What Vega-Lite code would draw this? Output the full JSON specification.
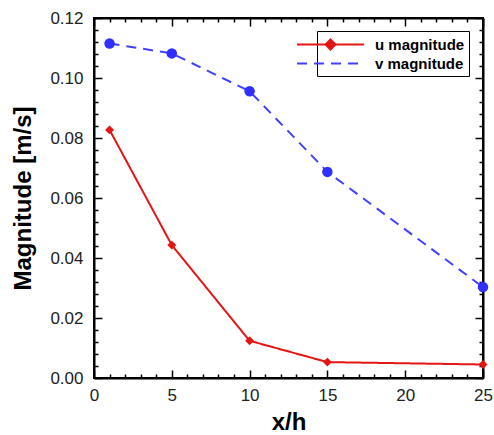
{
  "$schema": "https://vega.github.io/schema/vega-lite/v6.json",
  "width": 389,
  "height": 360,
  "autosize": "none",
  "padding": {"left": 94, "top": 18, "right": 11, "bottom": 57},
  "background": "white",
  "config": {
    "view": {"stroke": "black", "strokeWidth": 2},
    "font": "Liberation Sans",
    "axis": {
      "domain": true,
      "domainColor": "black",
      "domainWidth": 2,
      "grid": false,
      "ticks": true,
      "tickColor": "black",
      "tickWidth": 1.5,
      "tickOpacity": 1,
      "labelFont": "Liberation Sans",
      "labelFontSize": 17,
      "labelColor": "#222",
      "titleFont": "Liberation Sans",
      "titleFontSize": 24,
      "titleFontWeight": "bold",
      "titleColor": "black"
    }
  },
  "data": {
    "values": [
      {"x": 1, "mag": 0.0827, "series": "u magnitude"},
      {"x": 5, "mag": 0.0443, "series": "u magnitude"},
      {"x": 10, "mag": 0.0124, "series": "u magnitude"},
      {"x": 15, "mag": 0.0053, "series": "u magnitude"},
      {"x": 25, "mag": 0.0045, "series": "u magnitude"},
      {"x": 1, "mag": 0.1115, "series": "v magnitude"},
      {"x": 5, "mag": 0.1082, "series": "v magnitude"},
      {"x": 10, "mag": 0.0956, "series": "v magnitude"},
      {"x": 15, "mag": 0.0687, "series": "v magnitude"},
      {"x": 25, "mag": 0.0303, "series": "v magnitude"}
    ]
  },
  "resolve": {"axis": {"x": "independent", "y": "independent"}},
  "layer": [
    {
      "mark": {"type": "line", "strokeWidth": 2},
      "encoding": {
        "x": {
          "field": "x", "type": "quantitative",
          "scale": {"domain": [0, 25], "nice": false, "zero": false},
          "axis": {
            "orient": "bottom", "title": "x/h",
            "values": [0,1,2,3,4,5,6,7,8,9,10,11,12,13,14,15,16,17,18,19,20,21,22,23,24,25],
            "labelExpr": "datum.value % 5 === 0 ? datum.label : ''",
            "tickSize": -8,
            "tickDash": {"condition": {"test": "datum.value % 5 !== 0", "value": [4, 100]}, "value": [100, 0]},
            "labelPadding": 17,
            "titlePadding": 7,
            "labelFlush": false
          }
        },
        "y": {
          "field": "mag", "type": "quantitative",
          "scale": {"domain": [0, 0.12], "nice": false},
          "axis": {
            "orient": "left", "title": "Magnitude [m/s]",
            "values": [0,0.004,0.008,0.012,0.016,0.02,0.024,0.028,0.032,0.036,0.04,0.044,0.048,0.052,0.056,0.06,0.064,0.068,0.072,0.076,0.08,0.084,0.088,0.092,0.096,0.1,0.104,0.108,0.112,0.116,0.12],
            "format": ".2f",
            "labelExpr": "abs(round(datum.value*50) - datum.value*50) < 1e-6 ? datum.label : ''",
            "tickSize": -8,
            "tickDash": {"condition": {"test": "abs(round(datum.value*50) - datum.value*50) > 1e-6", "value": [4, 100]}, "value": [100, 0]},
            "labelPadding": 19,
            "titlePadding": 14,
            "labelFlush": false
          }
        },
        "color": {
          "field": "series", "type": "nominal",
          "scale": {"domain": ["u magnitude", "v magnitude"], "range": ["#e41515", "#4040ff"]},
          "legend": {
            "title": null,
            "orient": "none",
            "legendX": 223,
            "legendY": 13,
            "strokeColor": "black",
            "fillColor": "white",
            "padding": 4,
            "labelFont": "Liberation Sans",
            "labelFontSize": 15,
            "labelFontWeight": "bold",
            "labelColor": "black",
            "symbolType": "M-4,0L4,0",
            "symbolSize": 280,
            "symbolStrokeWidth": 2,
            "rowPadding": -2,
            "labelOffset": 35,
            "encode": {
              "symbols": {
                "update": {
                  "shape": {"signal": "datum.value === 'u magnitude' ? 'M-4,0L4,0M0,-0.6L0.6,0L0,0.6L-0.6,0Z' : 'M-4,0L4,0'"},
                  "fill": {"signal": "datum.value === 'u magnitude' ? '#e41515' : 'transparent'"}
                }
              }
            }
          }
        },
        "strokeDash": {
          "field": "series", "type": "nominal",
          "scale": {"domain": ["u magnitude", "v magnitude"], "range": [[1, 0], [10, 7]]}
        }
      }
    },
    {
      "mark": {"type": "point", "filled": true, "opacity": 1, "strokeWidth": 0},
      "encoding": {
        "x": {
          "field": "x", "type": "quantitative",
          "axis": {
            "orient": "top", "title": null, "labels": false,
            "values": [0,1,2,3,4,5,6,7,8,9,10,11,12,13,14,15,16,17,18,19,20,21,22,23,24,25],
            "tickSize": -8,
            "tickDash": {"condition": {"test": "datum.value % 5 !== 0", "value": [4, 100]}, "value": [100, 0]}
          }
        },
        "y": {
          "field": "mag", "type": "quantitative",
          "axis": {
            "orient": "right", "title": null, "labels": false,
            "values": [0,0.004,0.008,0.012,0.016,0.02,0.024,0.028,0.032,0.036,0.04,0.044,0.048,0.052,0.056,0.06,0.064,0.068,0.072,0.076,0.08,0.084,0.088,0.092,0.096,0.1,0.104,0.108,0.112,0.116,0.12],
            "tickSize": -8,
            "tickDash": {"condition": {"test": "abs(round(datum.value*50) - datum.value*50) > 1e-6", "value": [4, 100]}, "value": [100, 0]}
          }
        },
        "fill": {"condition": {"test": "datum.series === 'u magnitude'", "value": "#e41515"}, "value": "#2f2fff"},
        "shape": {"condition": {"test": "datum.series === 'u magnitude'", "value": "diamond"}, "value": "circle"},
        "size": {"condition": {"test": "datum.series === 'u magnitude'", "value": 80}, "value": 110}
      }
    }
  ]
}
